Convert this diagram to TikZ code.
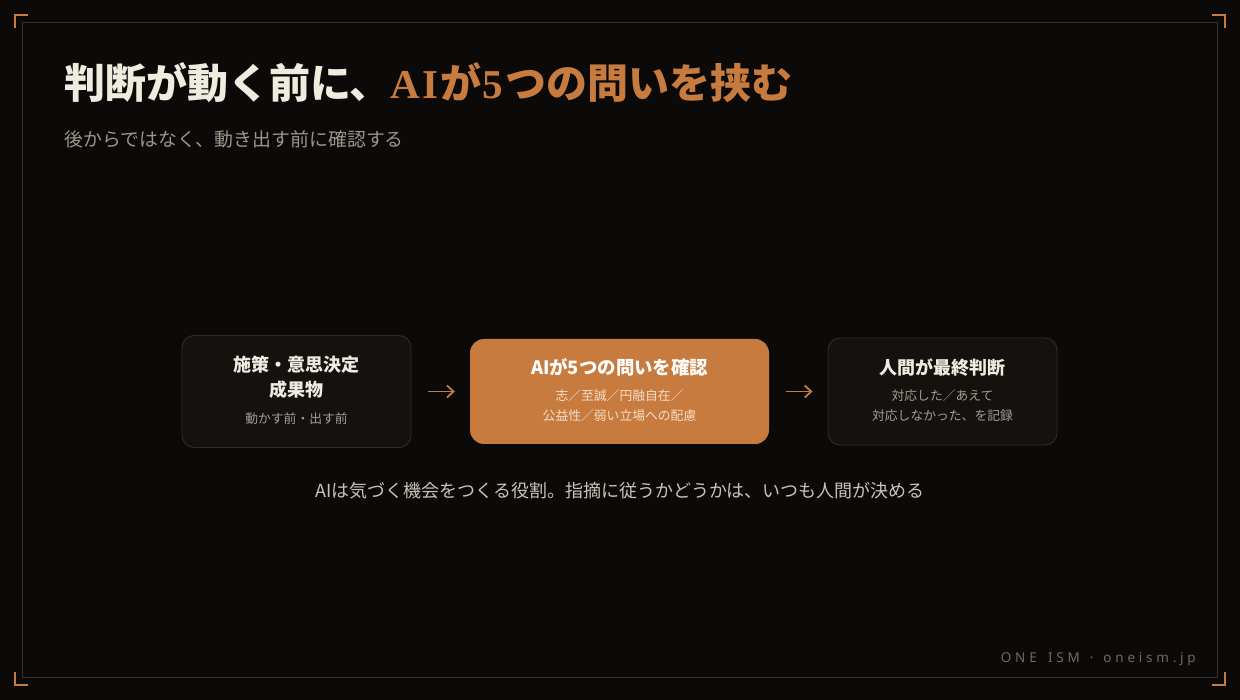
\documentclass[tikz,border=0pt]{standalone}
\usepackage{fontspec}
\setmainfont{Noto Sans CJK JP}
\newfontfamily\serifb{Liberation Serif}
\newfontfamily\footfont{Noto Sans}[LetterSpace=28]
\usetikzlibrary{arrows.meta}
\definecolor{bg}{HTML}{0B0A09}
\definecolor{framec}{HTML}{35322E}
\definecolor{accent}{HTML}{C87B3E}
\definecolor{titlew}{HTML}{F0EBDF}
\definecolor{subc}{HTML}{9B958A}
\definecolor{boxfill}{HTML}{13120F}
\definecolor{boxline}{HTML}{2F2D29}
\definecolor{boxttl}{HTML}{F0EBE0}
\definecolor{boxsmall}{HTML}{A39D91}
\definecolor{accsmall}{HTML}{F6DDC6}
\definecolor{bottomc}{HTML}{C9C3B7}
\definecolor{footc}{HTML}{6E6A63}
\tikzset{
  darkbox/.style={draw=boxline, line width=0.9pt, fill=boxfill, rounded corners=12pt, minimum width=229pt, minimum height=112pt, inner sep=0pt},
  accbox/.style={fill=accent, rounded corners=14pt, minimum width=299pt, minimum height=105pt, inner sep=0pt},
  bttl/.style={anchor=base, inner sep=0pt, text=boxttl, font=\fontsize{18}{21}\selectfont\bfseries},
  bsmall/.style={anchor=base, inner sep=0pt, text=boxsmall, font=\fontsize{12.8}{15}\selectfont},
  asmall/.style={anchor=base, inner sep=0pt, text=accsmall, font=\fontsize{12.8}{15}\selectfont},
  flowarrow/.style={draw=accent, line width=1.8pt, -{Straight Barb[length=6.5pt,width=12pt,line width=1.8pt]}, shorten <=17pt, shorten >=15pt},
  bracket/.style={draw=accent, line width=2pt},
}
\begin{document}
\begin{tikzpicture}[x=1pt,y=-1pt]
\fill[bg] (0,0) rectangle (1240,700);
\useasboundingbox (0,0) rectangle (1240,700);
% frame
\draw[framec, line width=1pt] (22.5,22.5) rectangle (1217.5,677.5);
% corner brackets
\draw[bracket] (15,28) -- (15,15) -- (28,15);
\draw[bracket] (1212,15) -- (1225,15) -- (1225,28);
\draw[bracket] (15,672) -- (15,685) -- (28,685);
\draw[bracket] (1212,685) -- (1225,685) -- (1225,672);
% title
\node[anchor=base west, inner sep=0pt, font=\fontsize{41}{48}\selectfont\bfseries] (title) at (64,99)
  {\textcolor{titlew}{判断が動く前に、}\textcolor{accent}{{\serifb\bfseries A\kern2pt I}\kern2pt が\kern1pt{\serifb\bfseries 5}\kern2pt つの問いを挟む}};
\node[anchor=base west, inner sep=0pt, text=subc, font=\fontsize{18.9}{22}\selectfont] (subtitle) at (64,147)
  {後からではなく、動き出す前に確認する};
% boxes
\node[darkbox] (b1) at (296.5,391.5) {};
\node[accbox] (b2) at (619.5,391.5) {};
\node[darkbox, minimum height=107pt] (b3) at (942.5,391.5) {};
% box 1 text
\node[bttl] (b1a) at (296.5,372) {施策・意思決定};
\node[bttl] (b1b) at (296.5,397) {成果物};
\node[bsmall] (b1c) at (296.5,423.5) {動かす前・出す前};
% box 2 text
\node[bttl, text=white, font=\fontsize{18.4}{21}\selectfont\bfseries] (b2a) at (619.5,375) {AIが5つの問いを確認};
\node[asmall] (b2b) at (619.5,401) {志／至誠／円融自在／};
\node[asmall] (b2c) at (619.5,421) {公益性／弱い立場への配慮};
% box 3 text
\node[bttl] (b3a) at (942.5,375) {人間が最終判断};
\node[bsmall] (b3b) at (942.5,401) {対応した／あえて};
\node[bsmall] (b3c) at (942.5,421) {対応しなかった、を記録};
% arrows
\draw[flowarrow] (b1) -- (b2);
\draw[flowarrow] (b2) -- (b3);
% bottom note
\node[anchor=base, inner sep=0pt, text=bottomc, font=\fontsize{18}{21}\selectfont] (note) at (620,497)
  {AIは気づく機会をつくる役割。指摘に従うかどうかは、いつも人間が決める};
% footer
\node[anchor=base east, inner sep=0pt, text=footc, font=\footfont\fontsize{13.5}{16}\selectfont] (footer) at (1196,662)
  {ONE\hspace{4pt} ISM\hspace{10pt}·\hspace{10pt}oneism.jp};
\end{tikzpicture}
\end{document}
